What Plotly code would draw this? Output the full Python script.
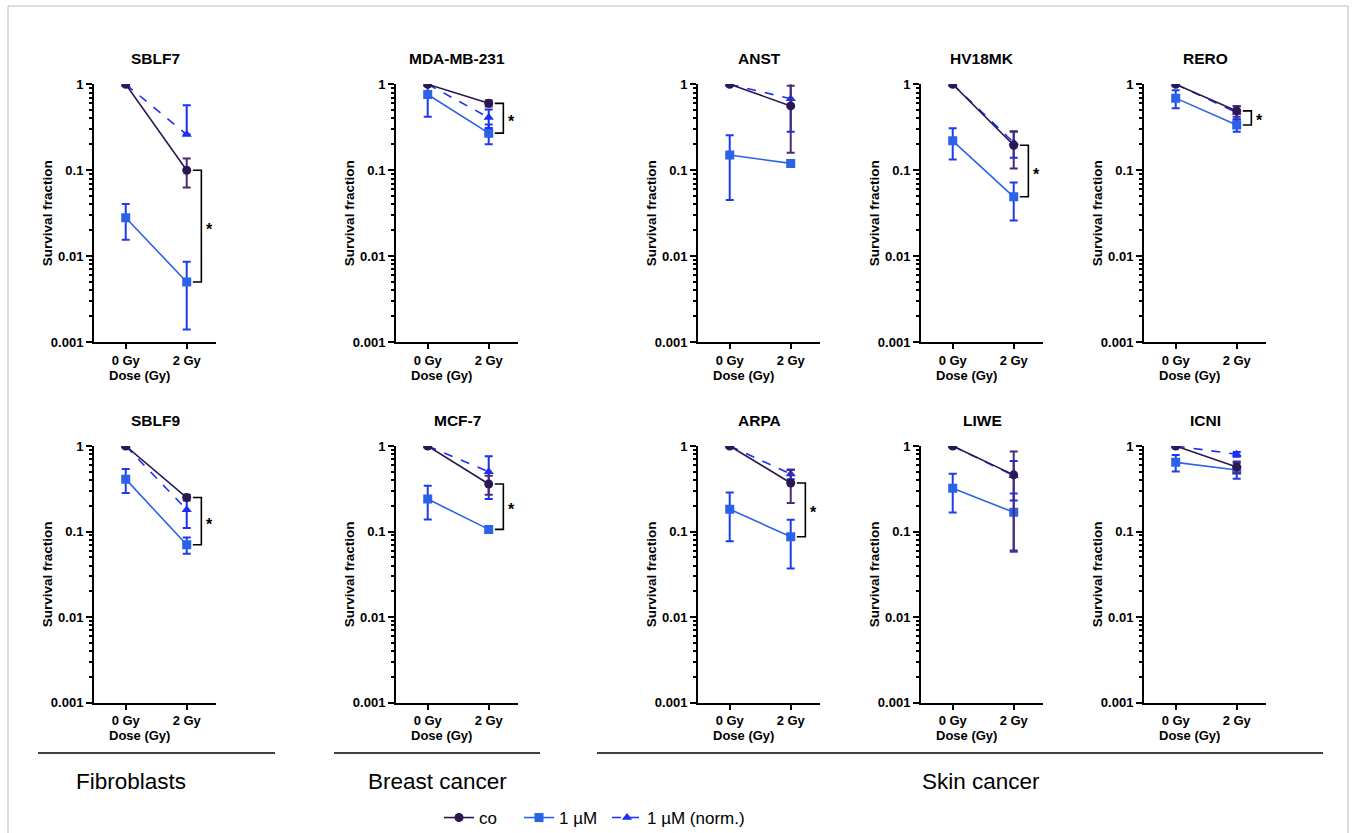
import math
import plotly.graph_objects as go

W, H = 1356, 833
FONT = "Liberation Sans, Arial, sans-serif"

# ---------------- data ----------------
cell_lines = ["SBLF7", "MDA-MB-231", "ANST", "HV18MK", "RERO",
              "SBLF9", "MCF-7", "ARPA", "LIWE", "ICNI"]
doses = ["0 Gy", "2 Gy"]
dose_pos = [0, 1]

co_mean = [[1, 0.10], [1, 0.60], [1, 0.56], [1, 0.195], [1, 0.49],
           [1, 0.25], [1, 0.36], [1, 0.37], [1, 0.46], [1, 0.57]]
co_sd = [[None, 0.037], [None, 0.05], [None, 0.40], [None, 0.09], [None, 0.07],
         [None, 0.02], [None, 0.09], [None, 0.155], [None, 0.40], [None, 0.09]]

um_mean = [[0.028, 0.005], [0.76, 0.27], [0.15, 0.12], [0.22, 0.049], [0.69, 0.336],
           [0.41, 0.07], [0.24, 0.106], [0.182, 0.087], [0.32, 0.168], [0.644, 0.525]]
um_sd = [[0.0125, 0.0036], [0.34, 0.07], [0.105, 0.01], [0.087, 0.023], [0.165, 0.056],
         [0.128, 0.015], [0.102, 0.008], [0.105, 0.05], [0.153, 0.11], [0.14, 0.11]]

norm_mean = [[1, 0.26], [1, 0.41], [1, 0.68], [1, 0.21], [1, 0.47],
             [1, 0.18], [1, 0.50], [1, 0.47], [1, 0.45], [1, 0.80]]
norm_sd_up = [[None, 0.31], [None, 0.10], [None, 0.40], [None, 0.07], [None, 0.08],
              [None, 0.07], [None, 0.26], [None, 0.06], [None, 0.22], [None, 0.05]]
norm_sd_down = [[None, 0.0], [None, 0.10], [None, 0.40], [None, 0.07], [None, 0.08],
                [None, 0.07], [None, 0.26], [None, 0.06], [None, 0.22], [None, 0.05]]

significant = [True, True, False, True, True, True, True, True, False, False]

groups = ["Fibroblasts", "Breast cancer", "Skin cancer"]
legend_names = ["co", "1 µM", "1 µM (norm.)"]

y_tickvals = [0.001, 0.01, 0.1, 1]
y_ticktext = ["0.001", "0.01", "0.1", "1"]
y_minor = [m * 10 ** e for e in (-3, -2, -1) for m in range(2, 10)]

# ---------------- style ----------------
C_CO = "#2b1850"
C_CO_ERR = "#4d2b72"
C_UM = "#2a62e8"
C_UM_ERR = "#1d3cf2"
C_NORM = "#1a2ef5"

col_left = [94, 396, 698, 921, 1144]
row_top = [84.3, 446]
row_bottom = [342, 702.7]
PW = 122
XR = [-0.52, 1.48]

fig = go.Figure()
annotations = []
shapes = []

for i, name in enumerate(cell_lines):
    r, c = divmod(i, 5)
    n = i + 1
    xa = "x" if n == 1 else f"x{n}"
    ya = "y" if n == 1 else f"y{n}"
    first = (i == 0)

    fig.add_trace(go.Scatter(
        x=dose_pos, y=um_mean[i], xaxis=xa, yaxis=ya, name=legend_names[1],
        legend="legend2", showlegend=first,
        mode="lines+markers",
        line=dict(color=C_UM, width=1.6),
        marker=dict(symbol="square", size=9, color=C_UM),
        error_y=dict(type="data", array=um_sd[i], color=C_UM_ERR, thickness=2, width=4),
    ))
    fig.add_trace(go.Scatter(
        x=dose_pos, y=norm_mean[i], xaxis=xa, yaxis=ya, name=legend_names[2],
        legend="legend3", showlegend=first,
        mode="lines+markers",
        line=dict(color=C_NORM, width=1.6, dash="dash"),
        marker=dict(symbol="triangle-up", size=9, color=C_NORM),
        error_y=dict(type="data", array=norm_sd_up[i], arrayminus=norm_sd_down[i],
                     symmetric=False, color=C_NORM, thickness=2, width=4),
    ))
    fig.add_trace(go.Scatter(
        x=dose_pos, y=co_mean[i], xaxis=xa, yaxis=ya, name=legend_names[0],
        legend="legend", showlegend=first,
        mode="lines+markers",
        line=dict(color=C_CO, width=1.6),
        marker=dict(symbol="circle", size=9, color=C_CO),
        error_y=dict(type="data", array=co_sd[i], color=C_CO_ERR, thickness=2, width=4),
    ))

    if significant[i]:
        a = co_mean[i][1]
        b = um_mean[i][1]
        fig.add_trace(go.Scatter(
            x=[1.1, 1.24, 1.24, 1.1], y=[a, a, b, b], xaxis=xa, yaxis=ya,
            mode="lines", line=dict(color="black", width=1.6),
            showlegend=False, hoverinfo="skip"))
        annotations.append(dict(
            x=1.37, y=(math.log10(a) + math.log10(b)) / 2, xref=xa, yref=ya,
            text="<b>*</b>", showarrow=False, xanchor="center", yanchor="middle",
            yshift=-3, font=dict(size=16, color="black", family=FONT)))

    left = col_left[c]
    top, bottom = row_top[r], row_bottom[r]
    xdom = [left / W, (left + PW) / W]
    ydom = [1 - bottom / H, 1 - top / H]

    axis_common = dict(showgrid=False, zeroline=False, showline=True,
                       linecolor="black", linewidth=2, ticks="outside",
                       tickcolor="black", tickwidth=2, automargin=False,
                       tickfont=dict(size=13, family=FONT, color="black", weight="bold"))
    fig.layout["xaxis" if n == 1 else f"xaxis{n}"] = dict(
        domain=xdom, anchor=ya, range=XR, tickvals=dose_pos, ticktext=doses,
        ticklen=5, fixedrange=True, **axis_common)
    fig.layout["yaxis" if n == 1 else f"yaxis{n}"] = dict(
        domain=ydom, anchor=xa, type="log", range=[-3, 0],
        tickvals=y_tickvals, ticktext=y_ticktext, ticklen=6,
        minor=dict(tickmode="array", tickvals=y_minor, ticks="outside",
                   ticklen=3, tickwidth=1.5, tickcolor="black"),
        fixedrange=True, **axis_common)

    # panel title
    annotations.append(dict(
        x=(left + PW / 2) / W, y=1 - (row_top[r] - 26) / H, xref="paper", yref="paper",
        text=f"<b>{name}</b>", showarrow=False, xanchor="center", yanchor="middle",
        font=dict(size=15.5, family=FONT, color="black")))
    # y title
    annotations.append(dict(
        x=(left - 47) / W, y=(ydom[0] + ydom[1]) / 2, xref="paper", yref="paper",
        text="<b>Survival fraction</b>", textangle=-90, showarrow=False,
        xanchor="center", yanchor="middle",
        font=dict(size=13.5, family=FONT, color="black")))
    # x title
    annotations.append(dict(
        x=(left + (0.22 - XR[0]) * PW / (XR[1] - XR[0])) / W, y=1 - (bottom + 33) / H,
        xref="paper", yref="paper",
        text="<b>Dose (Gy)</b>", showarrow=False, xanchor="center", yanchor="middle",
        font=dict(size=13, family=FONT, color="black")))

# group separators and labels
group_lines = [(38, 275), (334, 540), (597, 1323)]
group_label_x = [131, 437, 981]
for (x0, x1), lx, g in zip(group_lines, group_label_x, groups):
    shapes.append(dict(type="line", xref="paper", yref="paper",
                       x0=x0 / W, x1=x1 / W, y0=1 - 753 / H, y1=1 - 753 / H,
                       line=dict(color="black", width=1.6)))
    annotations.append(dict(x=lx / W, y=1 - 781 / H, xref="paper", yref="paper",
                            text=g, showarrow=False, xanchor="center", yanchor="middle",
                            font=dict(size=22.5, family=FONT, color="black")))

# outer frame
shapes.append(dict(type="rect", xref="paper", yref="paper",
                   x0=8 / W, x1=1348 / W, y0=-0.05, y1=1 - 6 / H,
                   line=dict(color="#bdbdbd", width=1)))

leg_common = dict(orientation="h", xanchor="left", yanchor="middle",
                  y=1 - 818 / H, font=dict(size=17, family=FONT, color="black"),
                  bgcolor="rgba(0,0,0,0)", itemwidth=30)

fig.update_layout(
    width=W, height=H, autosize=False,
    margin=dict(l=0, r=0, t=0, b=0, pad=0, autoexpand=False),
    paper_bgcolor="white", plot_bgcolor="white",
    font=dict(family=FONT, color="black"),
    annotations=annotations, shapes=shapes,
    legend=dict(x=439 / W, **leg_common),
    legend2=dict(x=519 / W, **leg_common),
    legend3=dict(x=607 / W, **leg_common),
)

fig.write_html(
    "out.html",
    config={"displayModeBar": False},
    post_script=(
        "var d=document.getElementById('{plot_id}');"
        "d.style.position='fixed';d.style.left='0px';d.style.top='0px';"
        "document.documentElement.style.margin='0';document.documentElement.style.overflow='hidden';"
        "document.body.style.margin='0';document.body.style.overflow='hidden';"
    ),
)
